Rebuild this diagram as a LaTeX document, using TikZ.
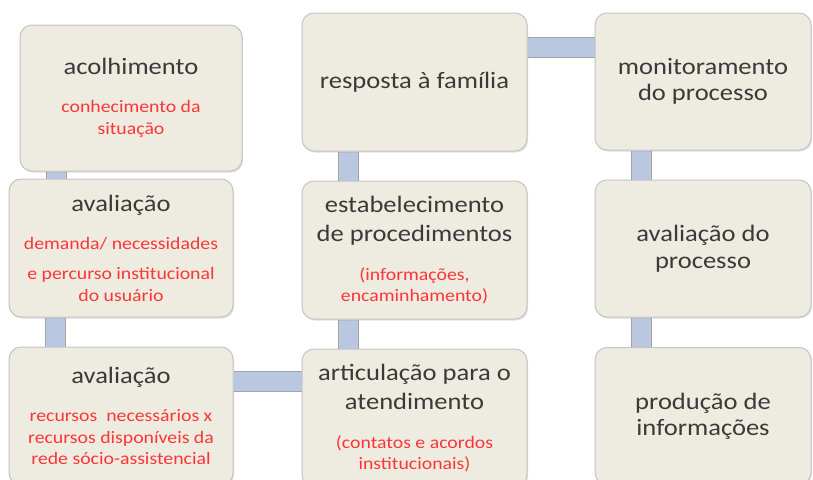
\documentclass[tikz,border=0pt]{standalone}
\usepackage{fontspec}
\setmainfont{Carlito}[FakeStretch=1.13]
\usetikzlibrary{backgrounds,shadows}
\definecolor{boxfill}{HTML}{EEECE1}
\definecolor{boxline}{HTML}{C4C4C4}
\definecolor{barfill}{HTML}{B9C7E0}
\definecolor{barline}{HTML}{A3A3A3}
\definecolor{ink}{HTML}{3A3A3A}
\definecolor{note}{HTML}{FF3535}
\newcommand{\nt}[1]{{\fontsize{17.5}{21}\selectfont\color{note}#1}}
\tikzset{
	stage/.style={rectangle, rounded corners=12pt, draw=boxline, fill=boxfill, line width=1pt,
		align=center, inner sep=0pt, minimum width=224pt, minimum height=138pt,
		font=\fontsize{23.5}{28}\selectfont, text=ink,
		drop shadow={shadow xshift=1pt, shadow yshift=-1.5pt, opacity=.25, fill=gray}},
	linkbar/.style={draw=barline, line width=1pt, double=barfill, double distance=19pt}
}
\begin{document}
\begin{tikzpicture}[x=1pt,y=-1pt]
	\useasboundingbox (0,0) rectangle (813,479);
	\node[stage, minimum width=222pt, minimum height=146pt] at (131,98) (acol) {acolhimento\\[10pt]\nt{conhecimento da}\\[-6pt]\nt{situação}};
	\node[stage] at (121,248) (avdem) {avaliação\\[10pt]\nt{demanda/ necessidades}\\[2pt]\nt{e percurso institucional}\\[-6pt]\nt{do usuário}};
	\node[stage] at (121,416) (avrec) {avaliação\\[10pt]\nt{recursos\ \ necessários x}\\[-6pt]\nt{recursos disponíveis da}\\[-7pt]\nt{rede sócio-assistencial}};
	
	\node[stage, minimum width=225pt] at (414.5,82) (resp) {resposta à família};
	\node[stage, minimum width=225pt] at (414.5,250) (estab) {estabelecimento\\[1pt]de procedimentos\\[11pt]\nt{(informações,}\\[-7pt]\nt{encaminhamento)}};
	\node[stage, minimum width=225pt] at (414.5,418) (artic) {articulação para o\\[1pt]atendimento\\[11pt]\nt{(contatos e acordos}\\[-7pt]\nt{institucionais)}};
	
	\node[stage, minimum width=216pt, minimum height=137pt] at (703,81.5) (monit) {monitoramento\\[-2pt]do processo};
	\node[stage, minimum width=216pt, minimum height=137pt] at (703,248.5) (avproc) {avaliação do\\[-1pt]processo};
	\node[stage, minimum width=216pt, minimum height=137pt] at (703,416) (prod) {produção de\\[-2pt]informações};
	
	\begin{scope}[on background layer]
		\draw[linkbar] ([xshift=48pt]avdem.north west) -- ([xshift=48pt]avdem.north west |- acol.south);
		\draw[linkbar] ([xshift=46.5pt]avrec.north west) -- ([xshift=46.5pt]avrec.north west |- avdem.south);
		\draw[linkbar] ([yshift=-34.5pt]avrec.north east) -- ([yshift=-34.5pt]avrec.north east -| artic.west);
		\draw[linkbar] ([xshift=46.5pt]artic.north west) -- ([xshift=46.5pt]artic.north west |- estab.south);
		\draw[linkbar] ([xshift=46.5pt]estab.north west) -- ([xshift=46.5pt]estab.north west |- resp.south);
		\draw[linkbar] ([yshift=-35pt]resp.north east) -- ([yshift=-35pt]resp.north east -| monit.west);
		\draw[linkbar] ([xshift=46.5pt]avproc.north west) -- ([xshift=46.5pt]avproc.north west |- monit.south);
		\draw[linkbar] ([xshift=46.5pt]prod.north west) -- ([xshift=46.5pt]prod.north west |- avproc.south);
	\end{scope}
\end{tikzpicture}
\end{document}
